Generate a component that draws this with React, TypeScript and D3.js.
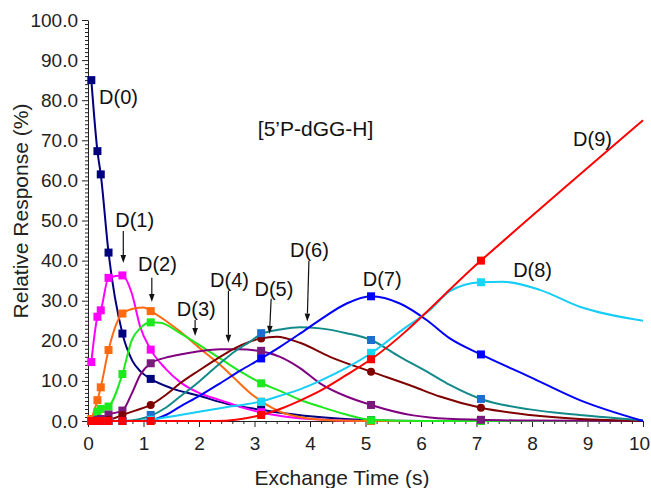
import React, { useEffect, useRef } from 'react';
import * as d3 from 'd3';

// sampling times of the measured points (s)
const TIMES = [0.06, 0.17, 0.23, 0.37, 0.62, 1.13, 3.12, 5.1, 7.08];
const NAMES = ['D(0)', 'D(1)', 'D(2)', 'D(3)', 'D(4)', 'D(5)', 'D(6)', 'D(7)', 'D(8)', 'D(9)'];
const X_TICKS = [0, 1, 2, 3, 4, 5, 6, 7, 8, 9, 10];
const Y_TICKS = [0, 10, 20, 30, 40, 50, 60, 70, 80, 90, 100];

// measured relative response (%) at TIMES
const D0_MEAS = [85, 67.3, 61.5, 42, 21.8, 10.5, 2.8, 0.2, 0];
const D1_MEAS = [14.7, 26, 27.6, 35.7, 36.3, 17.8, 2.2, 0, 0];
const D2_MEAS = [0.5, 5.2, 8.4, 17.7, 26.8, 27.4, 4.8, 0, 0];
const D3_MEAS = [0, 2.3, 3.0, 3.6, 11.7, 24.6, 9.4, 0.2, 0];
const D4_MEAS = [0, 0.3, 0.5, 1.6, 2.6, 14.4, 17.5, 4.0, 0.3];
const D5_MEAS = [0, 0, 0, 0.3, 1.5, 4.0, 20.6, 12.3, 3.3];
const D6_MEAS = [0, 0, 0, 0, 0, 1.5, 21.9, 20.2, 5.5];
const D7_MEAS = [0, 0, 0, 0, 0, 0.2, 15.6, 31.1, 16.6];
const D8_MEAS = [0, 0, 0, 0, 0, 0.3, 4.8, 17, 34.6];
const D9_MEAS = [0, 0, 0, 0, 0, 0, 1.5, 15.4, 40];

// fitted curves [time, response]
const D0_FIT = [[0.06, 85], [0.17, 67.3], [0.23, 61.5], [0.37, 42], [0.62, 21.8], [0.8, 15], [0.95, 12.3], [1.13, 10.5], [1.5, 8.2], [2, 6.3], [2.5, 4.3], [3.12, 2.8], [3.5, 2], [4, 1.2], [4.5, 0.6], [5.1, 0.2], [6, 0], [10, 0]];
const D1_FIT = [[0.06, 14.7], [0.17, 26], [0.23, 27.6], [0.37, 35.7], [0.62, 36.3], [0.79, 31.8], [0.94, 23.5], [1.13, 17.8], [1.4, 13], [1.66, 9.7], [2, 7], [2.38, 5.2], [2.75, 3.5], [3.1, 2.2], [3.5, 1.2], [4, 0.5], [5, 0], [10, 0]];
const D2_FIT = [[0.06, 0.5], [0.17, 5.2], [0.23, 8.4], [0.37, 17.7], [0.62, 26.8], [0.85, 28.1], [1.0, 28.3], [1.13, 27.4], [1.4, 25], [1.66, 22.3], [2, 18.3], [2.38, 14], [2.65, 10.5], [2.92, 7], [3.2, 4.2], [3.46, 2.3], [4, 0.6], [4.5, 0.1], [5, 0], [10, 0]];
const D3_FIT = [[0.06, 0], [0.17, 2.3], [0.23, 3.0], [0.37, 3.6], [0.62, 11.7], [0.79, 20.2], [0.94, 23.1], [1.13, 24.6], [1.3, 24.5], [1.66, 21.9], [2, 19], [2.38, 15.6], [2.75, 12.3], [3.1, 9.6], [3.46, 7.5], [3.82, 5.3], [4.18, 3.6], [4.6, 1.8], [5.1, 0.3], [6, 0], [10, 0]];
const D4_FIT = [[0.06, 0], [0.17, 0.3], [0.23, 0.5], [0.37, 1.6], [0.62, 2.6], [0.79, 6.9], [0.94, 11.5], [1.13, 14.4], [1.4, 15.8], [1.66, 16.6], [2, 17.4], [2.38, 17.9], [2.7, 17.9], [3.12, 17.4], [3.46, 16], [3.82, 13.2], [4.18, 9.4], [4.66, 6.1], [5.1, 4.0], [5.86, 1.4], [6.16, 0.9], [7.08, 0.3], [8, 0.1], [10, 0]];
const D5_FIT = [[0.06, 0], [0.37, 0.3], [0.62, 1.5], [0.85, 2.6], [1.13, 4.0], [1.4, 6.5], [1.66, 9.4], [2, 12.6], [2.38, 16], [2.65, 18.2], [2.92, 19.8], [3.12, 20.6], [3.4, 21], [3.82, 19.5], [4.36, 16], [5.1, 12.3], [5.86, 8.6], [6.34, 6.1], [7.08, 3.3], [7.96, 1.5], [8.86, 0.5], [10, 0]];
const D6_FIT = [[0.62, 0], [0.9, 0.4], [1.13, 1.3], [1.4, 3.3], [1.66, 6.1], [2, 9.8], [2.38, 14.4], [2.65, 17.4], [2.92, 19.8], [3.12, 21.7], [3.46, 22.8], [3.82, 23.4], [4.18, 23.1], [4.66, 21.9], [5.1, 20.2], [5.62, 16], [6.16, 11.9], [6.52, 9], [7.08, 5.5], [7.96, 2.9], [8.86, 1.5], [10, 0.2]];
const D7_FIT = [[0.9, 0], [1.13, 0.2], [1.4, 1.5], [1.66, 3.6], [2, 6.2], [2.38, 9.4], [2.75, 12.6], [3.12, 15.6], [3.46, 18.5], [3.82, 21.8], [4.18, 25.2], [4.66, 29.3], [5.1, 31.1], [5.62, 29.3], [6.1, 25.2], [6.52, 20.6], [7.08, 16.6], [7.96, 11], [8.86, 5.2], [10, 0]];
const D8_FIT = [[0.9, 0], [1.13, 0.3], [1.66, 1.5], [2.38, 3.2], [3.12, 4.9], [3.46, 6.3], [3.82, 7.9], [4.18, 10], [4.66, 13.3], [5.1, 16.9], [5.62, 22.3], [6.16, 27.7], [6.52, 32.4], [7.08, 34.6], [7.48, 34.7], [8.14, 32.7], [8.86, 28.5], [10, 25]];
const D9_FIT = [[0.06, 0], [2.3, 0], [2.7, 0.4], [3.12, 1.5], [3.46, 3], [3.82, 5.1], [4.18, 7.5], [4.66, 11.5], [5.1, 15.4], [7.08, 40], [10, 75]];

const MEAS = [D0_MEAS, D1_MEAS, D2_MEAS, D3_MEAS, D4_MEAS, D5_MEAS, D6_MEAS, D7_MEAS, D8_MEAS, D9_MEAS];
const FITS = [D0_FIT, D1_FIT, D2_FIT, D3_FIT, D4_FIT, D5_FIT, D6_FIT, D7_FIT, D8_FIT, D9_FIT];

// styles
const LINE_COLORS = ['#00007f', '#ff00ff', '#ff6a10', '#1ee81e', '#800080', '#7f0000', '#138a8a', '#0000ff', '#15cdf5', '#ff0000'];
const MARK_COLORS = ['#00007f', '#ff00ff', '#ff6a10', '#1ee81e', '#7a1a7a', '#7f0000', '#1c6fd0', '#0000ff', '#15d8f5', '#ff0000'];

// label anchors (data units: left, baseline) and arrows (data units)
const LABEL_POS = [[0.2, 79], [0.49, 48.4], [0.9, 37.4], [1.6, 26.2], [2.2, 33.4], [3.0, 31.2], [3.64, 40.9], [4.95, 33.7], [7.66, 35.9], [8.74, 68.6]];
const ARROWS = [[0.636, 47.4, 0.636, 39.4], [1.15, 35.7, 1.15, 29.7], [1.93, 25.2, 1.93, 21.2], [2.53, 32.5, 2.53, 19.5], [3.3, 30.5, 3.27, 21.7], [3.98, 39.9, 3.95, 24.8]];

const FONT = '"Liberation Sans", Arial, Helvetica, sans-serif';

const App = () => {
    const ref = useRef(null);

    useEffect(() => {
        document.body.style.margin = '0';
        const svg = d3.select(ref.current);
        svg.selectAll('*').remove();

        const x = d3.scaleLinear().domain([0, 10]).range([88, 643]);
        const y = d3.scaleLinear().domain([0, 100]).range([421, 20]);

        // minor ticks
        svg.append('g')
            .attr('transform', 'translate(88,0)')
            .call(d3.axisLeft(y).tickValues(d3.range(0, 101, 1).filter(v => v % 10 !== 0)).tickSize(3).tickFormat(() => ''))
            .call(g => g.select('.domain').remove());
        svg.append('g')
            .attr('transform', 'translate(0,421)')
            .call(d3.axisBottom(x).tickValues(d3.range(0, 51, 1).map(v => v * 0.2).filter((v, i) => i % 5 !== 0)).tickSize(3).tickFormat(() => ''))
            .call(g => g.select('.domain').remove());

        const yAxis = svg.append('g')
            .attr('transform', 'translate(88,0)')
            .call(d3.axisLeft(y).tickValues(Y_TICKS).tickSize(6).tickSizeOuter(0).tickPadding(4).tickFormat(d3.format('.1f')));
        yAxis.selectAll('text').attr('font-size', 19).attr('font-family', FONT).attr('fill', '#222');

        const xAxis = svg.append('g')
            .attr('transform', 'translate(0,421)')
            .call(d3.axisBottom(x).tickValues(X_TICKS).tickSize(6).tickSizeOuter(0).tickPadding(10));
        xAxis.selectAll('text').attr('font-size', 19).attr('font-family', FONT).attr('fill', '#222')
            .attr('dx', d => (d === 10 ? -4 : 0));
        svg.selectAll('.domain, .tick line').attr('stroke', '#222');

        const line = d3.line()
            .x(d => x(d[0]))
            .y(d => y(d[1]))
            .curve(d3.curveMonotoneX);

        FITS.forEach((fit, i) => {
            svg.append('path')
                .attr('d', line(fit))
                .attr('fill', 'none')
                .attr('stroke', LINE_COLORS[i])
                .attr('stroke-width', 2);

            const pts = TIMES.map((t, j) => [t, MEAS[i][j]]);
            if (i === 5) {
                svg.selectAll(null).data(pts).enter().append('circle')
                    .attr('cx', d => x(d[0]))
                    .attr('cy', d => y(d[1]))
                    .attr('r', 4)
                    .attr('fill', MARK_COLORS[i]);
            } else {
                svg.selectAll(null).data(pts).enter().append('rect')
                    .attr('x', d => x(d[0]) - 4)
                    .attr('y', d => y(d[1]) - 4)
                    .attr('width', 8)
                    .attr('height', 8)
                    .attr('fill', MARK_COLORS[i]);
            }
        });

        // labels
        svg.selectAll('.lbl').data(NAMES).enter().append('text')
            .attr('x', (d, i) => x(LABEL_POS[i][0]))
            .attr('y', (d, i) => y(LABEL_POS[i][1]))
            .attr('font-size', 20)
            .attr('font-family', FONT)
            .attr('fill', '#111')
            .text(d => d);

        ARROWS.forEach(a => {
            const x0 = x(a[0]), y0 = y(a[1]), x1 = x(a[2]), y1 = y(a[3]);
            const ang = Math.atan2(y1 - y0, x1 - x0);
            const len = 8, hw = 2.8;
            const bx = x1 - len * Math.cos(ang), by = y1 - len * Math.sin(ang);
            svg.append('line')
                .attr('x1', x0).attr('y1', y0).attr('x2', bx).attr('y2', by)
                .attr('stroke', '#111').attr('stroke-width', 1.2);
            svg.append('path')
                .attr('d', `M${x1},${y1}L${bx - hw * Math.sin(ang)},${by + hw * Math.cos(ang)}L${bx + hw * Math.sin(ang)},${by - hw * Math.cos(ang)}Z`)
                .attr('fill', '#111');
        });

        svg.append('text')
            .attr('x', x(3.06))
            .attr('y', y(71.1))
            .attr('font-size', 21)
            .attr('font-family', FONT)
            .attr('fill', '#111')
            .text('[5\u2019P-dGG-H]');

        svg.append('text')
            .attr('transform', 'translate(28,211) rotate(-90)')
            .attr('text-anchor', 'middle')
            .attr('font-size', 21)
            .attr('font-family', FONT)
            .attr('fill', '#222')
            .text('Relative Response (%)');

        svg.append('text')
            .attr('x', 342)
            .attr('y', 485)
            .attr('text-anchor', 'middle')
            .attr('font-size', 21)
            .attr('font-family', FONT)
            .attr('fill', '#222')
            .text('Exchange Time (s)');
    }, []);

    return (
        <svg ref={ref} width={651} height={488} style={{ display: 'block', background: '#fff' }}></svg>
    );
};

export default App;
